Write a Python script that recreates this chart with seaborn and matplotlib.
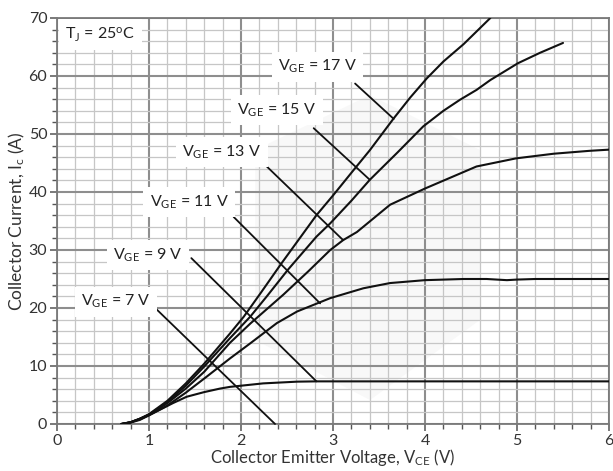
import matplotlib
matplotlib.use("Agg")
from matplotlib import pyplot as plt
from matplotlib.patches import Polygon
from matplotlib.ticker import MultipleLocator
import numpy as np
import pandas as pd
import seaborn as sns

# output characteristics
vce_17 = [0.7, 0.8, 0.9, 1.0, 1.2, 1.4, 1.6, 1.88, 2.03, 2.21, 2.44, 2.82, 3.0, 3.24, 3.4, 3.66, 3.84, 4.02, 4.2, 4.42, 4.71]
ic_17 = [0, 0.3, 0.9, 1.7, 4.0, 7.0, 10.4, 15.6, 18.5, 22.5, 27.7, 36.0, 39.4, 44.1, 47.2, 52.7, 56.3, 59.6, 62.5, 65.5, 70.0]

vce_15 = [0.7, 0.8, 0.9, 1.0, 1.2, 1.4, 1.6, 1.88, 2.1, 2.28, 2.51, 2.82, 2.97, 3.2, 3.4, 3.7, 3.98, 4.2, 4.38, 4.56, 4.71, 5.01, 5.25, 5.5]
ic_15 = [0, 0.3, 0.9, 1.6, 3.8, 6.6, 9.9, 14.8, 18.5, 22.0, 26.6, 32.3, 34.6, 38.5, 42.1, 46.8, 51.3, 54.0, 55.9, 57.6, 59.3, 62.2, 64.0, 65.7]

vce_13 = [0.7, 0.8, 0.9, 1.0, 1.2, 1.4, 1.6, 1.88, 2.1, 2.46, 2.73, 2.97, 3.11, 3.26, 3.62, 4.0, 4.56, 4.99, 5.4, 5.79, 6.0]
ic_13 = [0, 0.3, 0.9, 1.6, 3.6, 6.1, 9.0, 14.0, 17.3, 22.3, 26.3, 30.0, 31.7, 33.1, 37.8, 40.6, 44.4, 45.8, 46.6, 47.1, 47.3]

vce_11 = [0.7, 0.8, 0.9, 1.0, 1.2, 1.4, 1.63, 1.88, 2.1, 2.39, 2.61, 2.97, 3.33, 3.62, 4.0, 4.42, 4.67, 4.89, 5.0, 5.2, 5.79, 6.0]
ic_11 = [0, 0.3, 0.8, 1.5, 3.2, 5.4, 8.2, 11.3, 13.9, 17.4, 19.4, 21.7, 23.4, 24.3, 24.8, 25.0, 25.0, 24.8, 24.9, 25.0, 25.0, 25.0]

vce_9 = [0.7, 0.8, 0.9, 1.0, 1.26, 1.41, 1.6, 1.77, 1.88, 2.24, 2.61, 2.82, 3.0, 6.0]
ic_9 = [0, 0.25, 0.7, 1.5, 3.6, 4.7, 5.5, 6.1, 6.4, 7.0, 7.3, 7.35, 7.35, 7.35]

vge_labels = ["17 V", "15 V", "13 V", "11 V", "9 V", "7 V"]

curves = {
    "17 V": (vce_17, ic_17),
    "15 V": (vce_15, ic_15),
    "13 V": (vce_13, ic_13),
    "11 V": (vce_11, ic_11),
    "9 V": (vce_9, ic_9),
}

df = pd.concat(
    [pd.DataFrame({"vce": v, "ic": i, "vge": k}) for k, (v, i) in curves.items()],
    ignore_index=True,
)

sns.set_theme(style="white")
plt.rcParams["font.family"] = ["Lato", "DejaVu Sans"]
plt.rcParams["mathtext.fontset"] = "custom"
plt.rcParams["mathtext.rm"] = "Lato"
plt.rcParams["mathtext.default"] = "regular"

fig = plt.figure(figsize=(6.13, 4.71), dpi=100)
ax = fig.add_axes([0.093, 0.0998, 0.9005, 0.862])

# faint watermark behind the grid
ax.add_patch(
    Polygon(
        [(0.359, 0.675), (0.567, 0.81), (0.766, 0.675), (0.766, 0.256), (0.567, 0.059), (0.359, 0.207)],
        closed=True, transform=ax.transAxes, facecolor="#f8f8f8", edgecolor="none", zorder=0,
    )
)

sns.lineplot(
    data=df, x="vce", y="ic", hue="vge", palette=["#111111"] * len(curves),
    estimator=None, sort=False, legend=False, linewidth=1.5, ax=ax, zorder=3,
)

ax.set_xlim(0, 6)
ax.set_ylim(0, 70)
ax.xaxis.set_major_locator(MultipleLocator(1))
ax.xaxis.set_minor_locator(MultipleLocator(0.2))
ax.yaxis.set_major_locator(MultipleLocator(10))
ax.yaxis.set_minor_locator(MultipleLocator(2))
ax.set_axisbelow(True)
ax.grid(which="major", color="#8e8e8e", linewidth=1.5)
ax.grid(which="minor", color="#c6c6c6", linewidth=0.9)
for s in ax.spines.values():
    s.set_color("#7a7a7a")
    s.set_linewidth(1.3)
ax.tick_params(which="major", direction="out", length=5, width=1.1, color="#555555",
               labelsize=11.5, labelcolor="#333333", pad=2, bottom=True, left=True)
ax.tick_params(which="minor", direction="out", length=3.5, width=1.0, color="#555555",
               bottom=True, left=True)

ax.set_xlabel(r"Collector Emitter Voltage, V$_{CE}$ (V)", fontsize=12, color="#333333", va="bottom")
ax.set_ylabel(r"Collector Current, I$_{c}$ (A)", fontsize=12.5, color="#333333")
ax.xaxis.set_label_coords(0.5, -0.108)
ax.yaxis.set_label_coords(-0.055, 0.5)

box = dict(boxstyle="square,pad=0.4", facecolor="white", edgecolor="none")
ax.text(0.47, 67.1, r"T$_{J}$ = 25$^{o}$C", fontsize=11.5, color="#222222",
        ha="center", va="center", bbox=box, zorder=4)

# label text centre, leader start, leader end
label_geom = [
    ((2.83, 61.6), (3.24, 58.7), (3.66, 52.6)),
    ((2.39, 54.1), (2.79, 51.0), (3.40, 42.1)),
    ((1.79, 46.9), (2.28, 44.4), (3.11, 31.7)),
    ((1.435, 38.3), (1.92, 35.7), (2.86, 20.8)),
    ((0.99, 29.1), (1.46, 28.6), (2.82, 7.35)),
    ((0.64, 21.1), (1.08, 19.8), (2.37, 0.0)),
]
for name, (txt, start, end) in zip(vge_labels, label_geom):
    ax.text(*txt, r"V$_{GE}$ = " + name, fontsize=11.5, color="#222222",
            ha="center", va="center", bbox=box, zorder=4)
    ax.annotate("", xy=end, xytext=start,
                arrowprops=dict(arrowstyle="-", color="#111111", lw=1.3, shrinkA=0, shrinkB=0),
                zorder=3)

plt.savefig("out.png", dpi=100)
plt.close()
